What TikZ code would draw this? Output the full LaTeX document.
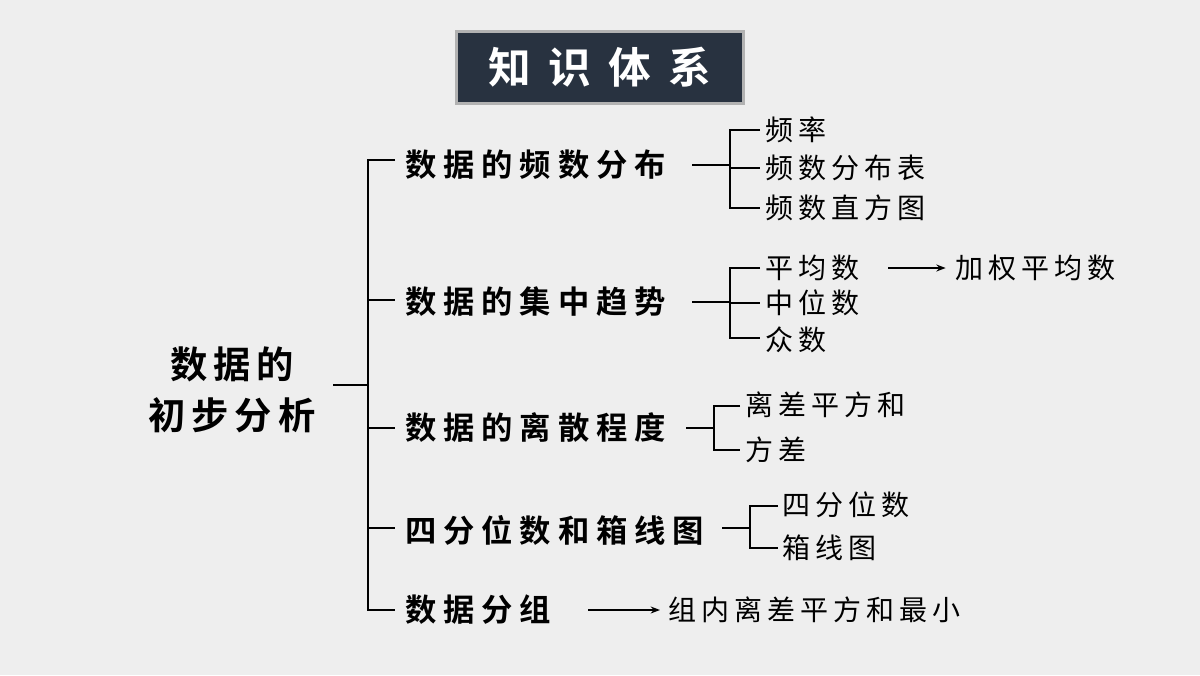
\documentclass[tikz,border=0pt]{standalone}
\usepackage{fontspec}
\newfontfamily\cjk[LetterSpace=18]{Noto Sans CJK SC}
\newfontfamily\cjkb[LetterSpace=22]{Noto Sans CJK SC Bold}
\newfontfamily\cjkr[LetterSpace=16]{Noto Sans CJK SC Bold}
\newfontfamily\cjkt{Noto Sans CJK SC Bold}
\usetikzlibrary{arrows.meta}
\definecolor{bg}{HTML}{EEEEEE}
\definecolor{navy}{HTML}{283240}
\begin{document}
\begin{tikzpicture}[x=0.75pt,y=-0.75pt,
  br/.style={font=\cjkb\fontsize{23.5}{24}\selectfont,anchor=west,inner sep=0},
  it/.style={font=\cjk\fontsize{21}{22}\selectfont,anchor=west,inner sep=0},
  ln/.style={line width=1.6pt,black},
  ar/.style={line width=1.3pt,-{Stealth[length=7pt]}}]
\fill[bg] (0,0) rectangle (1200,675);
\useasboundingbox (0,0) rectangle (1200,675);
\fill[gray!60] (455,30) rectangle (745,105);
\node[fill=navy,minimum width=284*0.75pt,minimum height=69*0.75pt,text=white,font=\cjkt\fontsize{32}{32}\selectfont] (title) at (600,67.5) {知\hspace{13pt}识\hspace{13pt}体\hspace{13pt}系};
\node[font=\cjkr\fontsize{28}{38}\selectfont,align=center] (root) at (232,390) {数据的\\初步分析};
\coordinate (re) at (333,385);
\coordinate (rj) at (368,385);
\draw[ln] (re) -- (rj);
\draw[ln] (395,160) -- (368,160) -- (368,610) -- (395,610);
\foreach \y in {300,428,528} \draw[ln] (368,\y) -- (395,\y);
\node[br] (b1) at (405,165) {数据的频数分布};
\node[br] (b2) at (405,302) {数据的集中趋势};
\node[br] (b3) at (405,428) {数据的离散程度};
\node[br] (b4) at (405,530) {四分位数和箱线图};
\node[br] (b5) at (405,610) {数据分组};
% branch 1
\draw[ln] (692,165) -- (730,165);
\draw[ln] (760,130) -- (730,130) -- (730,208) -- (760,208);
\draw[ln] (730,168) -- (760,168);
\node[it] (i11) at (765,130) {频率};
\node[it] (i12) at (765,168) {频数分布表};
\node[it] (i13) at (765,208) {频数直方图};
% branch 2
\draw[ln] (692,302) -- (730,302);
\draw[ln] (760,268) -- (730,268) -- (730,338) -- (760,338);
\draw[ln] (730,303) -- (760,303);
\node[it] (i21) at (765,268) {平均数};
\node[it] (i22) at (765,303) {中位数};
\node[it] (i23) at (765,340) {众数};
\node[it] (i24) at (955,268) {加权平均数};
\draw[ar] (888,268) -- ([xshift=-7pt]i24.west);
% branch 3
\draw[ln] (686,428) -- (714,428);
\draw[ln] (740,406) -- (714,406) -- (714,450) -- (740,450);
\node[it] (i31) at (745,405) {离差平方和};
\node[it] (i32) at (745,450) {方差};
% branch 4
\draw[ln] (722,528) -- (750,528);
\draw[ln] (778,506) -- (750,506) -- (750,548) -- (778,548);
\node[it] (i41) at (782,505) {四分位数};
\node[it] (i42) at (782,548) {箱线图};
% branch 5
\node[it] (i51) at (668,610) {组内离差平方和最小};
\draw[ar] (588,610) -- ([xshift=-6pt]i51.west);
\end{tikzpicture}
\end{document}
